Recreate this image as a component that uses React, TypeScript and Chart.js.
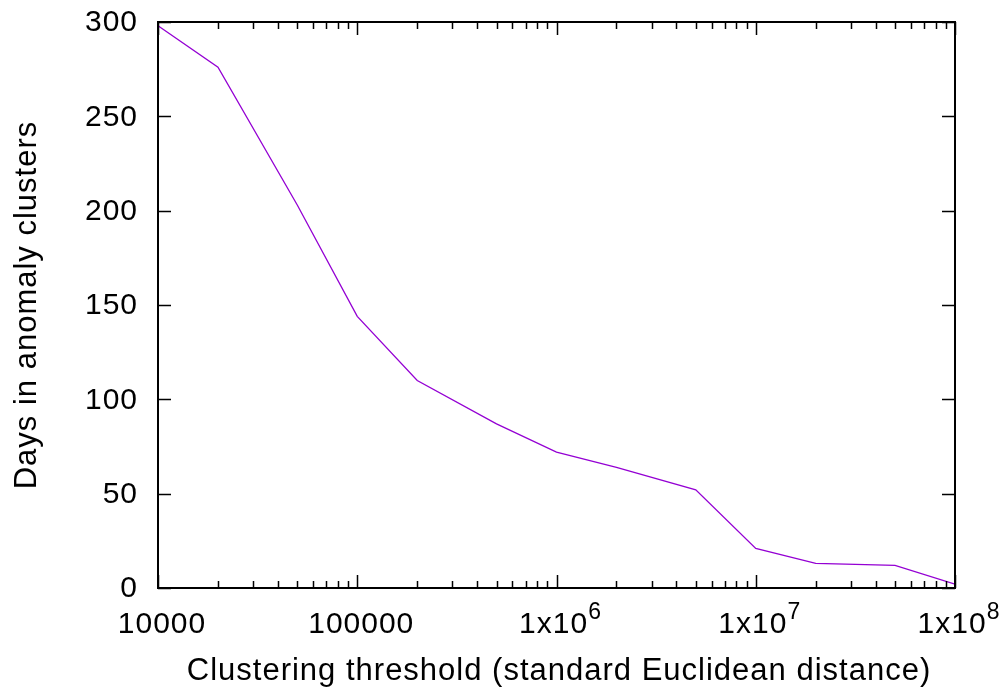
import React, { useEffect, useRef } from "react";
import { Chart, registerables } from "chart.js";

Chart.register(...registerables);

const thresholds = [1e4, 2e4, 5e4, 1e5, 2e5, 5e5, 1e6, 2e6, 5e6, 1e7, 2e7, 5e7, 1e8];
const daysInClusters = [298, 276, 203, 144, 110, 87, 72, 64, 52, 21, 13, 12, 2];
const xMajorTicks = [1e4, 1e5, 1e6, 1e7, 1e8];
const xTickBase = ["10000", "100000", "1x10", "1x10", "1x10"];
const xTickExp = ["", "", "6", "7", "8"];
const yTicks = [0, 50, 100, 150, 200, 250, 300];
const xTitle = "Clustering threshold (standard Euclidean distance)";
const yTitle = "Days in anomaly clusters";

const FONT = '"Liberation Sans", Arial, sans-serif';

const framePlugin = {
  id: "gnuplotFrame",
  afterDraw(chart: any) {
    const { ctx, chartArea } = chart;
    const { left, right, top, bottom } = chartArea;
    const xs = chart.scales.x;
    const ys = chart.scales.y;
    ctx.save();
    ctx.strokeStyle = "#000";
    ctx.fillStyle = "#000";
    // ticks
    ctx.lineWidth = 1.5;
    ctx.beginPath();
    for (let d = 4; d <= 8; d++) {
      for (let m = 1; m <= 9; m++) {
        const v = m * Math.pow(10, d);
        if (v > 1e8) break;
        const px = Math.round(xs.getPixelForValue(v)) + 0.5;
        const len = m === 1 ? 13 : 7;
        ctx.moveTo(px, bottom);
        ctx.lineTo(px, bottom - len);
        ctx.moveTo(px, top);
        ctx.lineTo(px, top + len);
      }
    }
    yTicks.forEach((v) => {
      const py = Math.round(ys.getPixelForValue(v)) + 0.5;
      ctx.moveTo(left, py);
      ctx.lineTo(left + 13, py);
      ctx.moveTo(right, py);
      ctx.lineTo(right - 13, py);
    });
    ctx.stroke();
    // border
    ctx.lineWidth = 2;
    ctx.strokeRect(left, top, right - left, bottom - top);

    (ctx as any).letterSpacing = "1px";
    // y tick labels
    ctx.font = `30px ${FONT}`;
    ctx.textAlign = "right";
    ctx.textBaseline = "middle";
    yTicks.forEach((v) => {
      const py = ys.getPixelForValue(v);
      ctx.fillText(String(v), left - 20, py + 1);
    });

    // x tick labels
    ctx.textBaseline = "alphabetic";
    xMajorTicks.forEach((v, i) => {
      const px = xs.getPixelForValue(v) + 4;
      ctx.font = `30px ${FONT}`;
      const w1 = ctx.measureText(xTickBase[i]).width;
      let w2 = 0;
      if (xTickExp[i]) {
        ctx.font = `23px ${FONT}`;
        w2 = ctx.measureText(xTickExp[i]).width;
      }
      const start = px - (w1 + w2) / 2;
      ctx.textAlign = "left";
      ctx.font = `30px ${FONT}`;
      ctx.fillText(xTickBase[i], start, 633);
      if (xTickExp[i]) {
        ctx.font = `23px ${FONT}`;
        ctx.fillText(xTickExp[i], start + w1, 619);
      }
    });

    // axis titles
    ctx.font = `31px ${FONT}`;
    ctx.textAlign = "center";
    ctx.fillText(xTitle, 559, 680);
    ctx.save();
    ctx.translate(27, (top + bottom) / 2);
    ctx.rotate(-Math.PI / 2);
    ctx.textBaseline = "middle";
    ctx.fillText(yTitle, 0, 0);
    ctx.restore();
    ctx.restore();
  },
};

export default function App() {
  const ref = useRef<HTMLCanvasElement | null>(null);
  useEffect(() => {
    if (!ref.current) return;
    const chart = new Chart(ref.current, {
      type: "line",
      data: {
        datasets: [
          {
            data: thresholds.map((x, i) => ({ x, y: daysInClusters[i] })),
            borderColor: "#9400D3",
            borderWidth: 1.3,
            pointRadius: 0,
            fill: false,
            tension: 0,
          },
        ],
      },
      options: {
        responsive: false,
        animation: false,
        devicePixelRatio: 1,
        layout: { padding: { left: 158, right: 50, top: 22, bottom: 101 } },
        plugins: { legend: { display: false }, tooltip: { enabled: false } },
        scales: {
          x: { type: "logarithmic", min: 1e4, max: 1e8, display: false },
          y: { type: "linear", min: 0, max: 300, display: false },
        },
      },
      plugins: [framePlugin],
    });
    return () => chart.destroy();
  }, []);
  return (
    <div style={{ position: "absolute", left: 0, top: 0, width: 1005, height: 689, background: "#fff" }}>
      <canvas ref={ref} width={1005} height={689} />
    </div>
  );
}
